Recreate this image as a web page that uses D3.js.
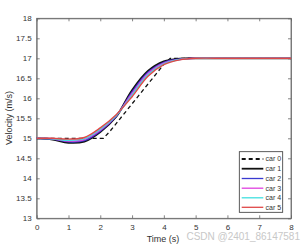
<!DOCTYPE html>
<html><head><meta charset="utf-8">
<script src="https://cdn.jsdelivr.net/npm/d3@7"></script>
<style>body{margin:0;background:#fff}svg{display:block;font-family:"Liberation Sans",Arial,sans-serif}</style>
</head><body><svg id="c" width="304" height="247"></svg>
<script>
const xTicks=[0,1,2,3,4,5,6,7,8];
const yTicks=[13,13.5,14,14.5,15,15.5,16,16.5,17,17.5,18];
const leaderT=[0,2.1,2.3,4.0,4.2,8];
const leaderV=[15,15,15.17,16.85,17,17];
const timeS=[0,0.5,1,1.5,2,2.5,3,3.5,4,4.5,5,6,8];
const car1=[15,14.97,14.89,14.92,15.16,15.54,16.2,16.68,16.92,16.99,17,17,17];
const car2=[15,14.98,14.91,14.94,15.18,15.55,16.16,16.65,16.9,16.98,17,17,17];
const car3=[15,14.99,14.93,14.97,15.2,15.56,16.12,16.62,16.88,16.97,17,17,17];
const car4=[15,14.99,14.95,14.99,15.23,15.57,16.08,16.59,16.86,16.97,17,17,17];
const car5=[15,15,14.98,15.02,15.26,15.59,16.04,16.55,16.84,16.96,17,17,17];
const names=["car 0","car 1","car 2","car 3","car 4","car 5"];
const colors=["#111","#111","#3a3ad0","#e040e0","#40e0e0","#e04848"];

const svg=d3.select("#c");
const L=36.7,R=291,T=18.3,B=218.3;
const x=d3.scaleLinear().domain([0,8]).range([L,R]);
const y=d3.scaleLinear().domain([13,18]).range([B,T]);
const ax="#666";
const fmt=d=>String(d);
const g=svg.append("g");
const xa=g.append("g").attr("transform",`translate(0,${B})`).call(d3.axisBottom(x).tickValues(xTicks).tickFormat(fmt).tickSizeInner(-3).tickSizeOuter(0).tickPadding(6));
const xt=g.append("g").attr("transform",`translate(0,${T})`).call(d3.axisTop(x).tickValues(xTicks).tickSizeInner(-3).tickSizeOuter(0).tickFormat(""));
const ya=g.append("g").attr("transform",`translate(${L},0)`).call(d3.axisLeft(y).tickValues(yTicks).tickFormat(fmt).tickSizeInner(-3).tickSizeOuter(0).tickPadding(5));
const yr=g.append("g").attr("transform",`translate(${R},0)`).call(d3.axisRight(y).tickValues(yTicks).tickSizeInner(-3).tickSizeOuter(0).tickFormat(""));
[xa,xt,ya,yr].forEach(a=>{a.selectAll("path,line").attr("stroke",ax).attr("stroke-width",0.8);a.selectAll("text").attr("fill","#333").style("font-size","8px").style("font-family","Liberation Sans, Arial, sans-serif");});
g.append("rect").attr("x",L).attr("y",T).attr("width",R-L).attr("height",B-T).attr("fill","none").attr("stroke",ax).attr("stroke-width",0.8);

const line=d3.line().x(d=>x(d[0])).y(d=>y(d[1]));
const sm=d3.line().x(d=>x(d[0])).y(d=>y(d[1])).curve(d3.curveCatmullRom.alpha(0.5));
const series=[car1,car2,car3,car4,car5];
g.append("path").datum(leaderT.map((t,i)=>[t,leaderV[i]])).attr("d",line).attr("fill","none").attr("stroke",colors[0]).attr("stroke-width",1.3).attr("stroke-dasharray","4,3");
series.forEach((s,k)=>{
  g.append("path").datum(timeS.map((t,i)=>[t,s[i]])).attr("d",sm).attr("fill","none").attr("stroke",colors[k+1]).attr("stroke-width",k===0?2:1.4);
});
const lg=g.append("g");
lg.append("rect").attr("x",239.3).attr("y",151.7).attr("width",43.4).attr("height",60.6).attr("fill","#fff").attr("stroke","#333").attr("stroke-width",0.8);
const ly=[159,168.7,178.5,188.2,197.8,207.3];
names.forEach((n,i)=>{
  lg.append("line").attr("x1",241.7).attr("x2",263.3).attr("y1",ly[i]).attr("y2",ly[i]).attr("stroke",colors[i]).attr("stroke-width",i<2?1.8:1.3).attr("stroke-dasharray",i===0?"4,3":null);
  lg.append("text").attr("x",265.5).attr("y",ly[i]+2.4).text(n).style("font-size","7px").attr("fill","#333");
});
g.append("text").attr("x",163).attr("y",242).attr("text-anchor","middle").text("Time (s)").style("font-size","9px").attr("fill","#333");
g.append("text").attr("transform","translate(12,118) rotate(-90)").attr("text-anchor","middle").text("Velocity (m/s)").style("font-size","9px").attr("fill","#333");
g.append("text").attr("x",300).attr("y",239.5).attr("text-anchor","end").text("CSDN @2401_86147581").style("font-size","10px").attr("fill","#c8c8c8");
</script></body></html>
